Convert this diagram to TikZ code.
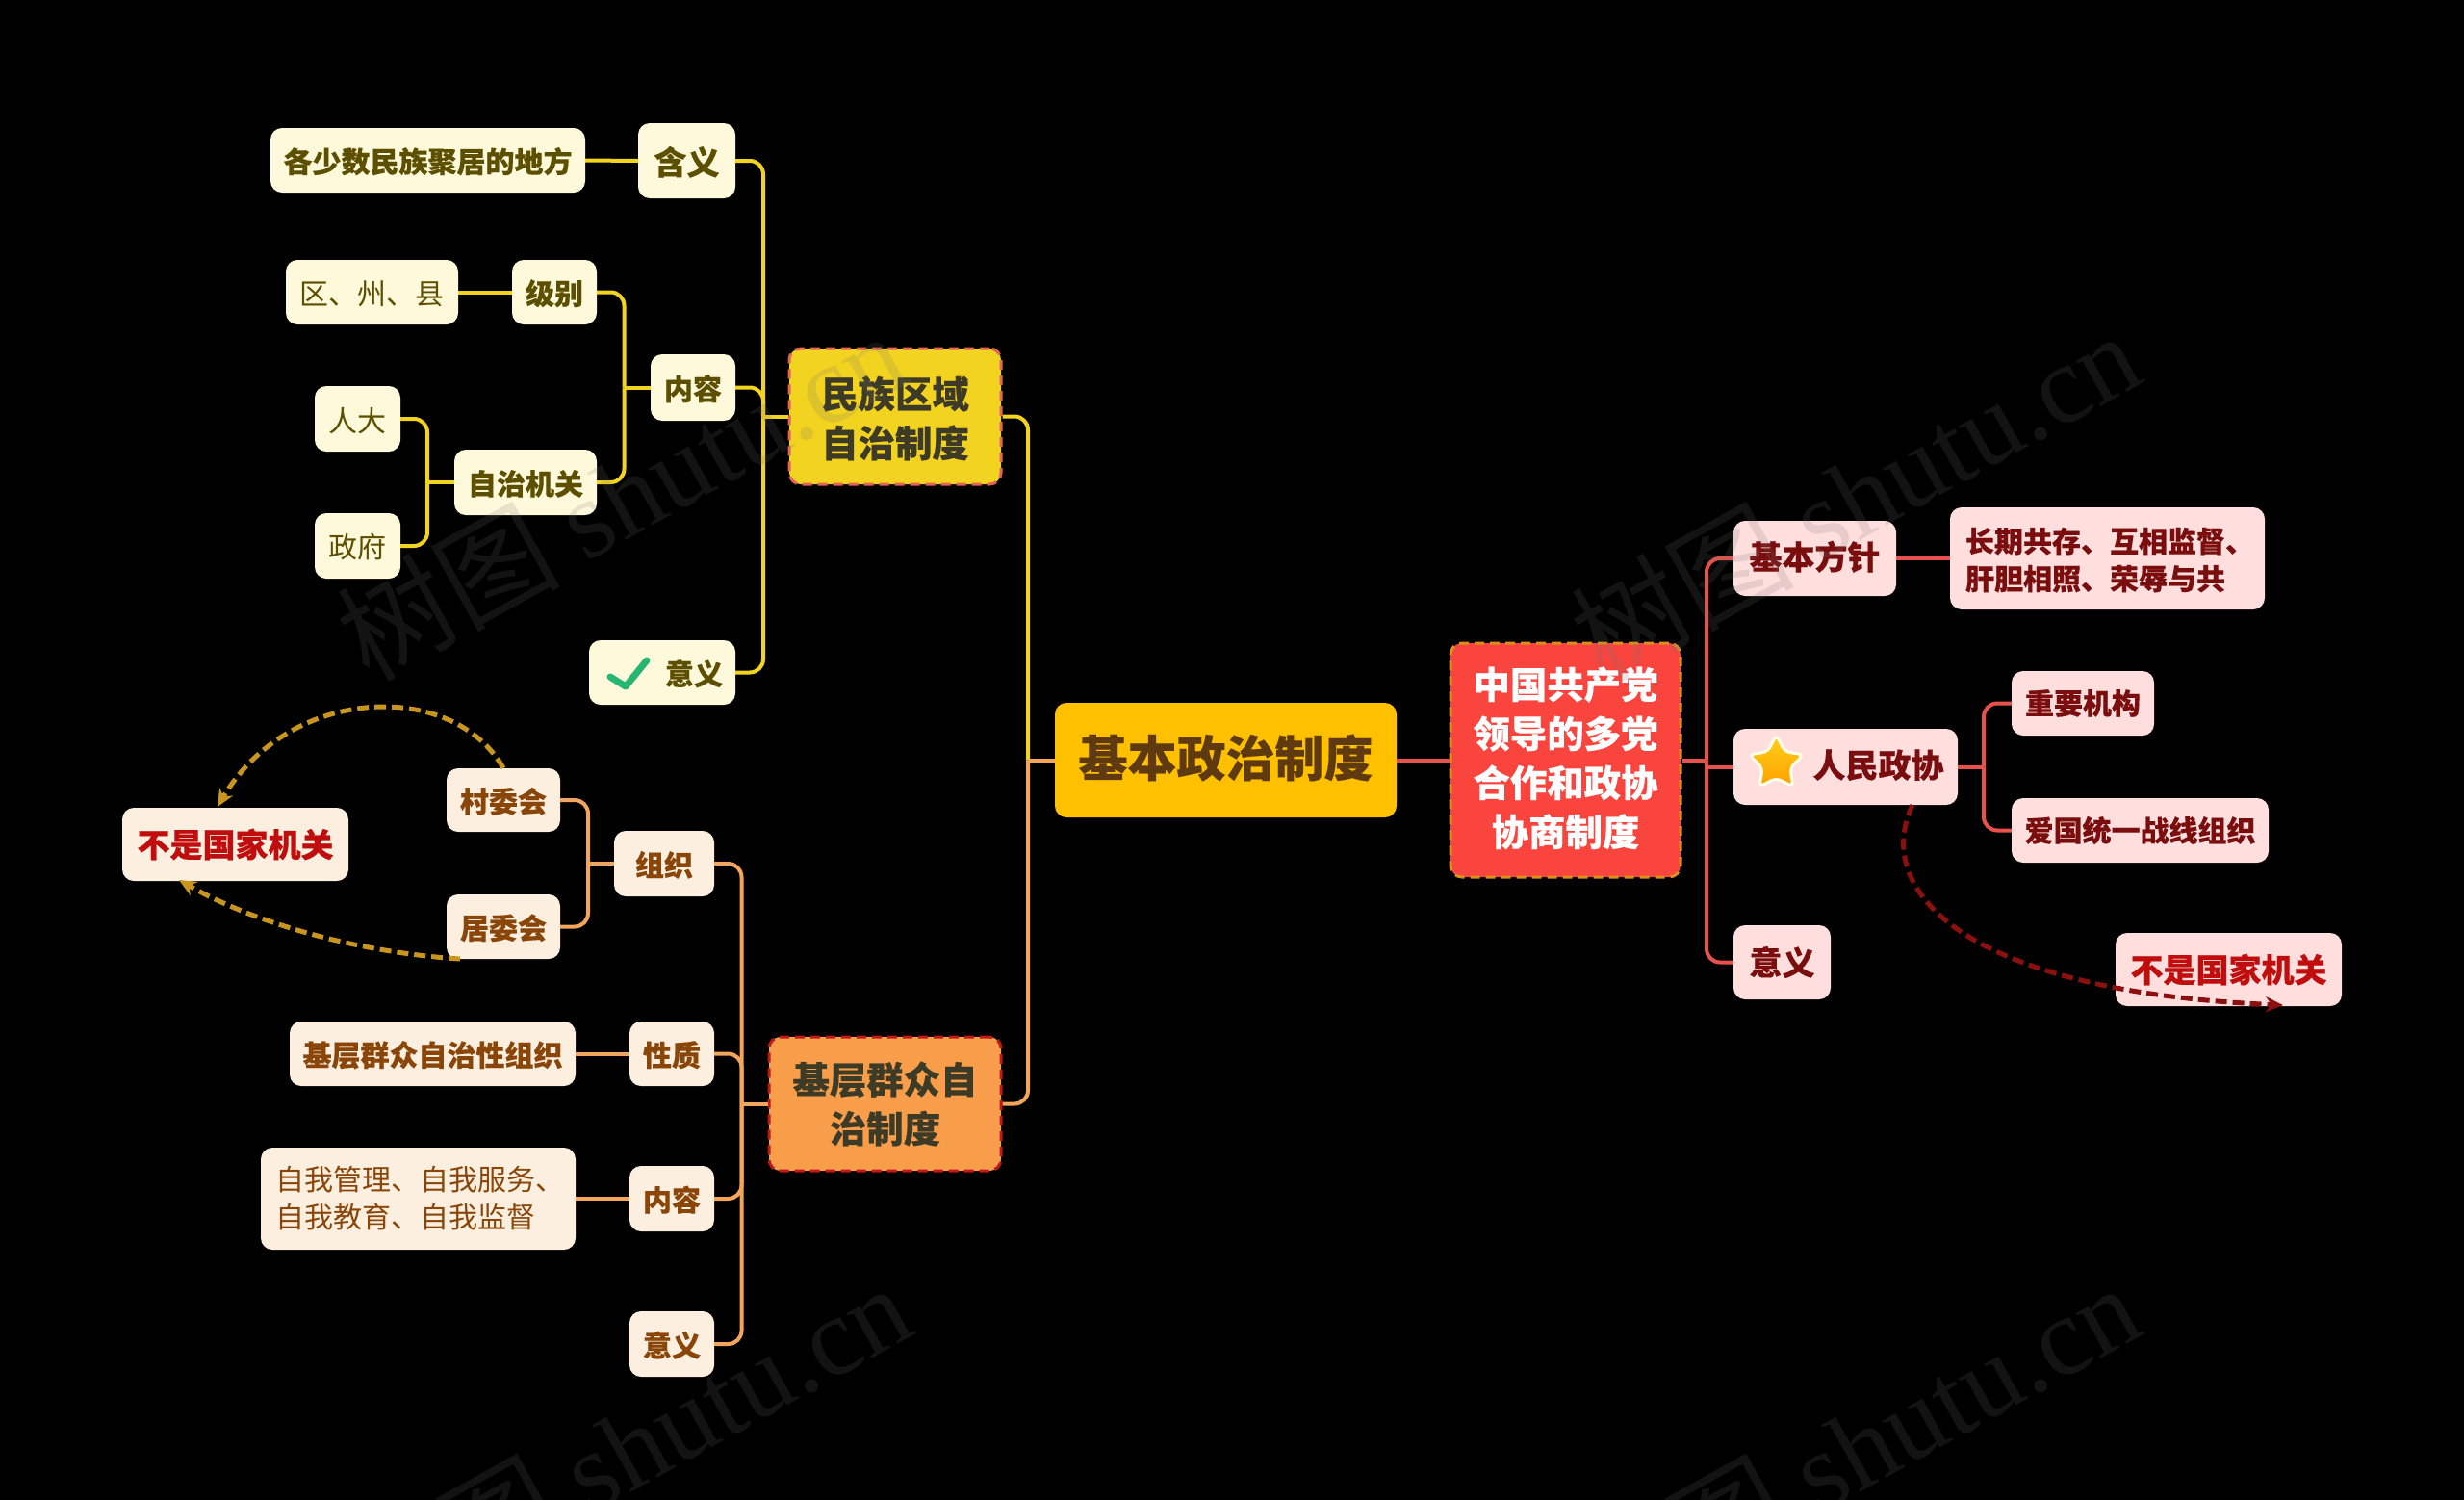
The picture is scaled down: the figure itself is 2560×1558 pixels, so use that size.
\documentclass[tikz,border=0pt]{standalone}
\usepackage{fontspec}
\setmainfont{Noto Sans CJK SC}[BoldFeatures={FakeBold=0.3}]
\newfontfamily\wmserif{Liberation Serif}
\usetikzlibrary{arrows.meta,shapes.geometric}
\definecolor{yline}{HTML}{F2D320}
\definecolor{oline}{HTML}{F4A55C}
\definecolor{rline}{HTML}{E8524C}
\definecolor{yleaf}{HTML}{FFF9DB}
\definecolor{oleaf}{HTML}{FDEFE0}
\definecolor{rleaf}{HTML}{FFDEDE}
\definecolor{ytext}{HTML}{5C4F00}
\definecolor{otext}{HTML}{8A4508}
\definecolor{rtext}{HTML}{7A0D0D}
\definecolor{alert}{HTML}{C00D0D}
\definecolor{maincol}{HTML}{FFC000}
\definecolor{maintext}{HTML}{5E3A0E}
\definecolor{hubY}{HTML}{F2D320}
\definecolor{hubYd}{HTML}{E8645A}
\definecolor{hubO}{HTML}{F89E4B}
\definecolor{hubOd}{HTML}{C01818}
\definecolor{hubR}{HTML}{FA443E}
\definecolor{hubRd}{HTML}{D9901F}
\definecolor{hubtext}{HTML}{3D3A25}
\definecolor{goldc}{HTML}{C8961E}
\definecolor{darkr}{HTML}{8B1010}
\definecolor{okgreen}{HTML}{27B573}
\tikzset{
  x=1pt,y=-1pt,
  bx/.style 2 args={rounded corners=12pt,inner sep=0pt,minimum width=#1,minimum height=#2,align=center},
  lower/.style={text height=28.5pt},
  yl/.style={lower,fill=yleaf,text=ytext,font=\fontsize{30}{39}\selectfont\bfseries},
  yr/.style={lower,fill=yleaf,text=ytext,font=\fontsize{30}{39}\selectfont},
  yb/.style={lower,fill=yleaf,text=ytext,font=\fontsize{34}{39}\selectfont\bfseries},
  ol/.style={lower,fill=oleaf,text=otext,font=\fontsize{30}{39}\selectfont\bfseries},
  olr/.style={fill=oleaf,text=otext,font=\fontsize{30}{39}\selectfont},
  rl/.style={fill=rleaf,text=rtext,font=\fontsize{30}{39}\selectfont\bfseries},
  rb/.style={fill=rleaf,text=rtext,font=\fontsize{34}{39}\selectfont\bfseries},
  aly/.style={fill=oleaf,text=alert,font=\fontsize{34}{39}\selectfont\bfseries},
  alr/.style={fill=rleaf,text=alert,font=\fontsize{34}{39}\selectfont\bfseries},
  hub/.style={font=\fontsize{38.4}{51}\selectfont\bfseries,line width=3pt,dash pattern=on 10pt off 6pt},
  ycon/.style={draw=yline,line width=4pt,rounded corners=14pt},
  ocon/.style={draw=oline,line width=4pt,rounded corners=14pt},
  rcon/.style={draw=rline,line width=4pt,rounded corners=14pt},
  gcurve/.style={draw=#1,line width=5pt,dash pattern=on 12pt off 6pt,-{Stealth[length=18pt,width=16pt]}},
  wm/.style={text=black!55!white,opacity=0.17,rotate=29,font=\fontsize{116}{116}\selectfont},
}
\begin{document}
\begin{tikzpicture}
\useasboundingbox (0,0) rectangle (2560,1558);
\clip (0,0) rectangle (2560,1558);
\fill[black] (0,0) rectangle (2560,1558);

% bus points
\coordinate (busM) at (1068,789.5);
\coordinate (busY) at (793,432.5);
\coordinate (busYi) at (648.5,402.5);
\coordinate (busYz) at (444,501);
\coordinate (busO) at (770.5,1146.5);
\coordinate (busOz) at (611,897);
\coordinate (busR) at (1773,789.5);
\coordinate (busRm) at (2061,796.5);
\coordinate (endNL1) at (226,838);
\coordinate (endNL2) at (186,914);
\coordinate (startJu) at (478,996);
\coordinate (startRm) at (1987,836);
\coordinate (endNR) at (2372,1044);

% nodes: centre
\node[bx={355pt}{119pt},fill=maincol,text=maintext,font=\fontsize{51}{60}\selectfont\bfseries,text depth=10pt] (main) at (1273.5,789.5) {基本政治制度};
\node[bx={220pt}{141pt},hub,fill=hubY,draw=hubYd,text=hubtext,text height=88pt] (minzu) at (930,432.5) {民族区域\\自治制度};
\node[bx={241pt}{139pt},hub,fill=hubO,draw=hubOd,text=hubtext] (jiceng) at (919.5,1146.5) {基层群众自\\治制度};
\node[bx={239pt}{243pt},hub,fill=hubR,draw=hubRd,text=white,text depth=8pt] (cpc) at (1626.5,789.5) {中国共产党\\领导的多党\\合作和政协\\协商制度};

% yellow branch
\node[bx={327pt}{67pt},yl] (ge) at (444.5,166.5) {各少数民族聚居的地方};
\node[bx={101pt}{78pt},yb,text height=32pt] (han) at (713.5,167) {含义};
\node[bx={179pt}{67pt},yr] (qu) at (386.5,303.5) {区、州、县};
\node[bx={88pt}{67pt},yl] (jibie) at (576,303.5) {级别};
\node[bx={88pt}{69pt},yl] (neirong) at (720,402.5) {内容};
\node[bx={89pt}{68pt},yr] (renda) at (371.5,435) {人大};
\node[bx={148pt}{68pt},yl] (zizhi) at (546,501) {自治机关};
\node[bx={89pt}{68pt},yr] (zhengfu) at (371.5,567) {政府};
\node[bx={152pt}{67pt},yl] (yiyi) at (688,698.5) {\hspace*{66pt}意义};

% orange branch
\node[bx={235pt}{76pt},aly] (notL) at (244.5,877) {不是国家机关};
\node[bx={118pt}{66pt},ol] (cun) at (523,831) {村委会};
\node[bx={118pt}{67pt},ol] (ju) at (523,962.5) {居委会};
\node[bx={104pt}{68pt},ol] (zuzhi) at (690,897) {组织};
\node[bx={297pt}{67pt},ol] (jq) at (449.5,1094.5) {基层群众自治性组织};
\node[bx={88pt}{67pt},ol] (xingzhi) at (698,1094.5) {性质};
\node[bx={327pt}{106pt},olr,align=left] (ziwo) at (434.5,1245) {\hspace*{3pt}自我管理、自我服务、\\\hspace*{3pt}自我教育、自我监督};
\node[bx={88pt}{68pt},ol] (nr2) at (698,1245) {内容};
\node[bx={88pt}{68pt},ol] (yy2) at (698,1396) {意义};

% red branch
\node[bx={169pt}{78pt},rb,text depth=7pt] (jb) at (1885.5,580) {基本方针};
\node[bx={327pt}{106pt},rl,align=left,text height=68pt] (cq) at (2189.5,580) {\hspace*{5pt}长期共存、互相监督、\\\hspace*{5pt}肝胆相照、荣辱与共};
\node[bx={233pt}{79pt},rb,text depth=7pt] (rm) at (1917.5,796.5) {\hspace*{68pt}人民政协};
\node[bx={148pt}{67pt},rl] (zy) at (2164,730.5) {重要机构};
\node[bx={267pt}{67pt},rl] (ag) at (2223.5,862.5) {爱国统一战线组织};
\node[bx={101pt}{77pt},rb] (yyR) at (1851.5,999.5) {意义};
\node[bx={235pt}{76pt},alr] (notR) at (2315.5,1007) {不是国家机关};

% connectors
\draw[ycon] (minzu.east) -| (busM);
\draw[ocon] (jiceng.east) -| (busM);
\draw[oline,line width=4pt] (main.west) -- (busM);
\draw[rcon] (main.east) -- (cpc.west);

\draw[ycon] (minzu.west) -- (busY);
\draw[ycon] (han.east) -| (busY);
\draw[ycon] (neirong.east) -| (busY);
\draw[ycon] (yiyi.east) -| (busY);
\draw[ycon] (ge.east) -- (han.west);
\draw[ycon] (neirong.west) -- (busYi);
\draw[ycon] (jibie.east) -| (busYi);
\draw[ycon] (zizhi.east) -| (busYi);
\draw[ycon] (qu.east) -- (jibie.west);
\draw[ycon] (zizhi.west) -- (busYz);
\draw[ycon] (renda.east) -| (busYz);
\draw[ycon] (zhengfu.east) -| (busYz);

\draw[ocon] (jiceng.west) -- (busO);
\draw[ocon] (zuzhi.east) -| (busO);
\draw[ocon] (xingzhi.east) -| (busO);
\draw[ocon] (nr2.east) -| (busO);
\draw[ocon] (yy2.east) -| (busO);
\draw[ocon] (jq.east) -- (xingzhi.west);
\draw[ocon] (ziwo.east) -- (nr2.west);
\draw[ocon] (zuzhi.west) -- (busOz);
\draw[ocon] (cun.east) -| (busOz);
\draw[ocon] (ju.east) -| (busOz);

\draw[rcon] (cpc.east) -- (busR);
\draw[rcon] (jb.west) -| (busR);
\draw[rcon] (yyR.west) -| (busR);
\draw[rcon] (rm.west) -- (rm.west -| busR);
\draw[rcon] (jb.east) -- (cq.west);
\draw[rcon] (rm.east) -- (busRm);
\draw[rcon] (zy.west) -| (busRm);
\draw[rcon] (ag.west) -| (busRm);

% icons
\node[star,star points=5,star point ratio=2.0,minimum size=60pt,inner sep=0pt,rounded corners=6pt,draw=white!92!yellow,line width=3pt,top color=yellow!60!orange!90!white,bottom color=orange!75!yellow] (staricon) at (1845.5,793) {};
\draw[okgreen,line width=7pt,line cap=round,line join=round] (634,703) -- (650,713) -- (672,686);

% dashed curves
\draw[gcurve=goldc] (cun.north) .. controls (470,705) and (300,712) .. (endNL1);
\draw[gcurve=goldc] (startJu) .. controls (380,990) and (270,962) .. (endNL2);
\draw[gcurve=darkr] (startRm) .. controls (1945,925) and (2040,1030) .. (endNR);

% watermark
\node[wm] (w1) at (645,514) {树图 {\wmserif shutu.cn}};
\node[wm] (w2) at (1927,514) {树图 {\wmserif shutu.cn}};
\node[wm] (w3) at (650,1503) {树图 {\wmserif shutu.cn}};
\node[wm] (w4) at (1927,1503) {树图 {\wmserif shutu.cn}};
\end{tikzpicture}
\end{document}
